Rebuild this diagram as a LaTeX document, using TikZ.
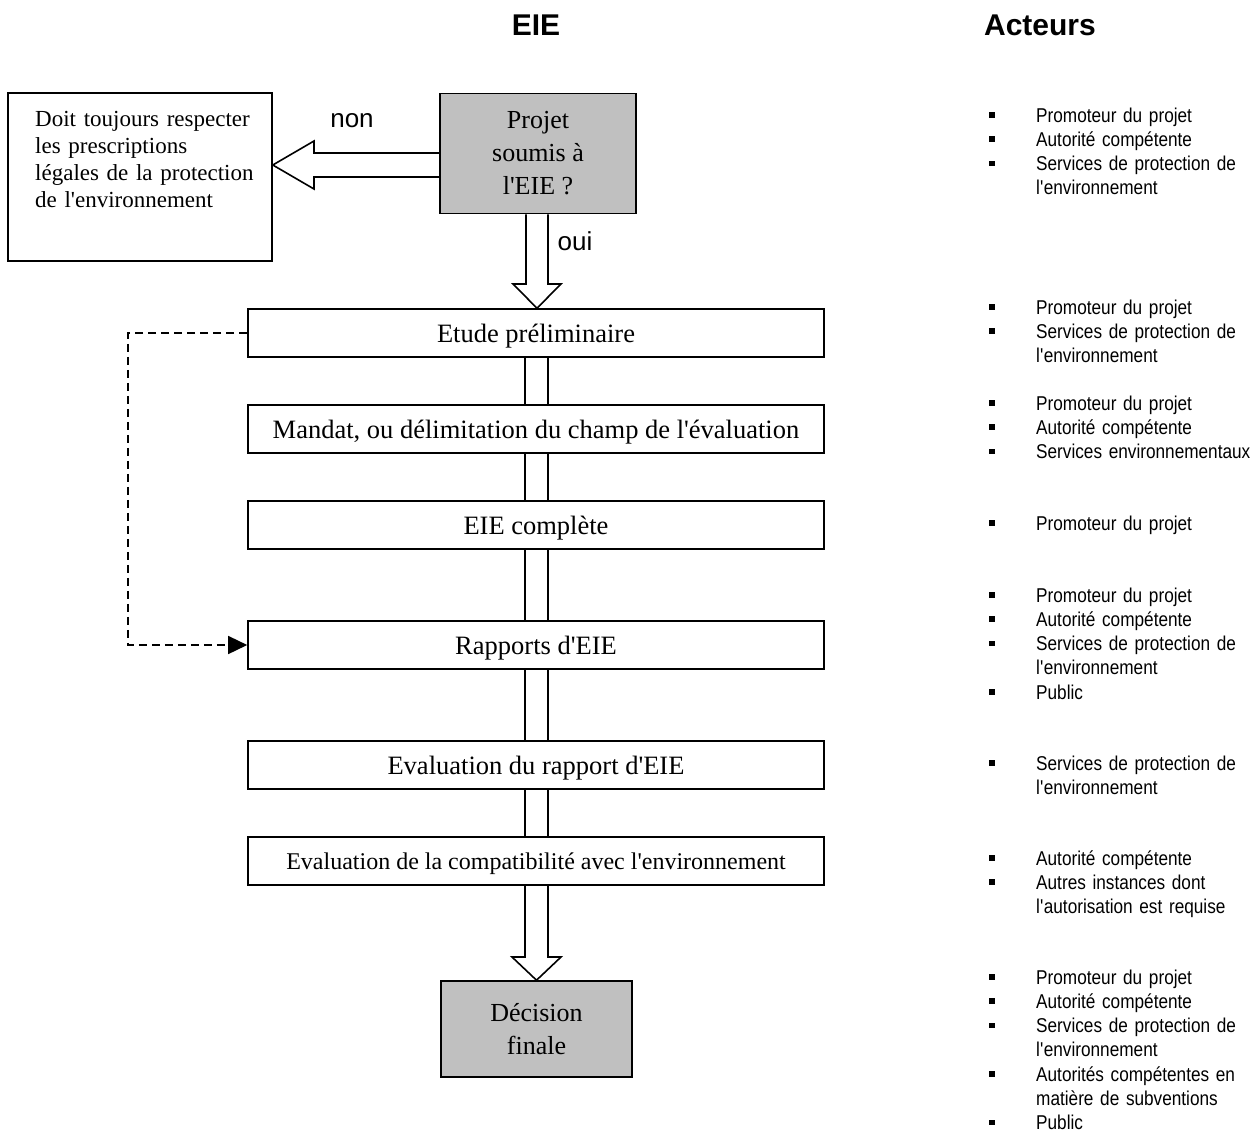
\documentclass[tikz,border=0pt]{standalone}
\usepackage{fontspec}
\setmainfont{Liberation Serif}
\newfontfamily\arialfont{Liberation Sans}
\newfontfamily\narrowfont[FakeStretch=0.86]{Liberation Sans}
\usetikzlibrary{arrows.meta,calc}
\definecolor{boxgray}{RGB}{192,192,192}
\newcommand{\myq}{\textquotesingle}
\newcommand{\itm}{\makebox[47pt][l]{\raisebox{4.5pt}{\rule{5.5pt}{5.5pt}}}}
\newcommand{\ind}{\hspace*{47pt}}
\tikzset{
  lw/.style={line width=1.6pt},
  stepbox/.style={draw,lw,minimum width=576pt,minimum height=48pt,inner sep=0pt,text height=18pt,text depth=0pt,font=\fontsize{26.5}{30}\selectfont},
  graybox/.style={draw,lw,fill=boxgray,inner sep=0pt,align=center,font=\fontsize{26}{33}\selectfont},
  blockarrow/.style={draw,lw,line join=miter},
  pipe/.style={draw,lw},
  acteurs/.style={anchor=base west,text width=270pt,align=left,inner sep=0pt,font=\narrowfont\fontsize{20}{24.3}\selectfont},
  title/.style={font=\arialfont\bfseries\fontsize{30}{36}\selectfont},
  lbl/.style={font=\arialfont\fontsize{26}{30}\selectfont,inner sep=0pt},
}
\begin{document}
\begin{tikzpicture}[x=1pt,y=-1pt]
\fill[white] (0,0) rectangle (1255,1133);
\useasboundingbox (0,0) rectangle (1255,1133);

% titles
\node[title] (t1) at (536,25) {EIE};
\node[title] (t2) at (1040,25) {Acteurs};

% left box
\node[draw,lw,minimum width=264pt,minimum height=168pt,inner sep=0pt] (leftbox) at (140,177) {};
\node[anchor=base west,text width=240pt,align=left,inner sep=0pt,font=\fontsize{23}{27}\selectfont] (lefttext) at (35,126)
  {Doit toujours respecter\\les prescriptions\\légales de la protection\\de l\myq environnement};

% main column
\node[graybox,minimum width=196pt,minimum height=120pt] (projet) at (538,153.5) {Projet\\soumis à\\l\myq EIE ?};
\node[stepbox] (etude) at (536,333) {Etude préliminaire};
\node[stepbox] (mandat) at (536,429) {Mandat, ou délimitation du champ de l\myq évaluation};
\node[stepbox] (complete) at (536,525) {EIE complète};
\node[stepbox] (rapports) at (536,645) {Rapports d\myq EIE};
\node[stepbox] (evalrap) at (536,765) {Evaluation du rapport d\myq EIE};
\node[stepbox,font=\fontsize{24}{28}\selectfont,text height=16.5pt] (compat) at (536,861) {Evaluation de la compatibilité avec l\myq environnement};
\node[graybox,minimum width=191pt,minimum height=96pt] (decision) at (536.5,1029) {Décision\\finale};

% labels
\node[lbl] (non) at (352,121) {non};
\node[lbl] (oui) at (575,241) {oui};

% block arrow non
\draw[blockarrow] (projet.west |- 0,153) -- (314,153) -- (314,141) -- (leftbox.east |- 0,165)
  -- (314,189) -- (314,177) -- (projet.west |- 0,177);
% block arrow oui
\draw[blockarrow] (projet.south -| 526,0) -- (526,284) -- (513,284) -- (etude.north -| 537,0)
  -- (561,284) -- (548,284) -- (projet.south -| 548,0);
% pipes
\foreach \a/\b in {etude/mandat,mandat/complete,complete/rapports,rapports/evalrap,evalrap/compat}{
  \draw[pipe] (\a.south -| 525,0) -- (\b.north -| 525,0);
  \draw[pipe] (\a.south -| 548,0) -- (\b.north -| 548,0);
}
% block arrow to decision
\draw[blockarrow] (compat.south -| 525,0) -- (525,957) -- (512,957) -- (decision.north -| 536.5,0)
  -- (561,957) -- (548,957) -- (compat.south -| 548,0);

% dashed feedback
\draw[line width=1.5pt,dash pattern=on 8pt off 5pt,-{Triangle[length=19pt,width=18pt]}]
  (etude.west) -- (128,333) -- (128,645) -- (rapports.west);

% acteurs
\node[acteurs] (g1) at (989,122) {\itm Promoteur du projet\\\itm Autorité compétente\\\itm Services de protection de\\\ind l\myq environnement};
\node[acteurs] (g2) at (989,314) {\itm Promoteur du projet\\\itm Services de protection de\\\ind l\myq environnement};
\node[acteurs] (g3) at (989,410) {\itm Promoteur du projet\\\itm Autorité compétente\\\itm Services environnementaux};
\node[acteurs] (g4) at (989,530) {\itm Promoteur du projet};
\node[acteurs] (g5) at (989,602) {\itm Promoteur du projet\\\itm Autorité compétente\\\itm Services de protection de\\\ind l\myq environnement\\\itm Public};
\node[acteurs] (g6) at (989,770) {\itm Services de protection de\\\ind l\myq environnement};
\node[acteurs] (g7) at (989,865) {\itm Autorité compétente\\\itm Autres instances dont\\\ind l\myq autorisation est requise};
\node[acteurs] (g8) at (989,984) {\itm Promoteur du projet\\\itm Autorité compétente\\\itm Services de protection de\\\ind l\myq environnement\\\itm Autorités compétentes en\\\ind matière de subventions\\\itm Public};
\end{tikzpicture}
\end{document}
